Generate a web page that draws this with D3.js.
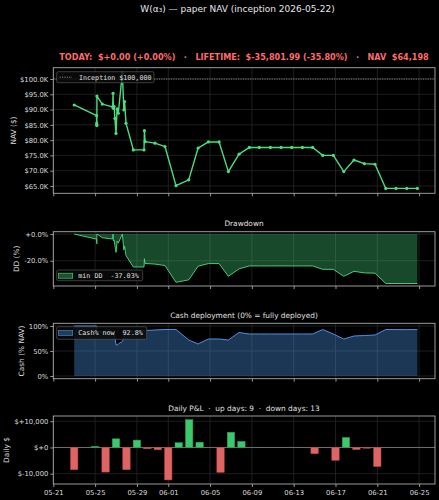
<!DOCTYPE html>
<html>
<head>
<meta charset="utf-8">
<script src="https://cdn.jsdelivr.net/npm/d3@7"></script>
<style>
body{margin:0;background:#000;}
svg{display:block;font-family:"DejaVu Sans",sans-serif;}
</style>
</head>
<body>
<svg id="chart" width="439" height="500"></svg>
<script>
// snapshot times and values
const navTimes = ['2026-05-23T00:00','2026-05-25T03:30','2026-05-25T03:40','2026-05-25T03:50','2026-05-25T04:00','2026-05-25T04:10',
    '2026-05-25T16:30','2026-05-26T16:20','2026-05-26T17:15','2026-05-26T18:00','2026-05-26T19:40','2026-05-26T21:30',
    '2026-05-27T00:00','2026-05-27T02:30','2026-05-27T05:15','2026-05-27T14:30','2026-05-27T18:00','2026-05-27T19:40',
    '2026-05-27T23:00','2026-05-28T15:50','2026-05-29T16:20','2026-05-29T17:15','2026-05-29T18:45','2026-05-30T17:30',
    '2026-05-31T16:30','2026-06-01T17:45','2026-06-02T23:00','2026-06-03T20:30','2026-06-04T20:00','2026-06-05T20:40',
    '2026-06-06T18:00','2026-06-07T18:30','2026-06-08T18:15','2026-06-09T17:00','2026-06-10T18:30','2026-06-11T19:00',
    '2026-06-12T19:30','2026-06-13T20:00','2026-06-14T19:40','2026-06-15T18:45','2026-06-16T19:00','2026-06-17T19:00',
    '2026-06-18T18:30','2026-06-19T18:15','2026-06-20T18:45','2026-06-21T19:30','2026-06-22T19:00','2026-06-23T19:40',
    '2026-06-24T20:00'];
const navValues = [91500,88000,85600,85000,84800,94400,
    91800,90900,95300,90400,91000,87100,
    82200,90200,88800,101950,89900,92600,
    85500,76800,76800,83100,79500,79000,
    77900,65100,67000,77400,79400,79400,
    69700,75400,77600,77600,77600,77600,
    77600,77600,77600,75000,75000,69700,
    73500,72300,72100,64198,64198,64198,
    64198];
const cashValues = [100,100,96,92,90,89,
    89,88,88,88,86,78,
    62,62,64,69,77,85,
    90,90,91,91,91,92,
    93,93,72,64,74,74,
    72,87,84,84,84,84,
    84,84,84,93,84,74,
    80,81,82,93,92.8,92.8,
    92.8];

const pnlDays = ['2026-05-23','2026-05-25','2026-05-26','2026-05-27','2026-05-28','2026-05-29','2026-05-30',
    '2026-05-31','2026-06-01','2026-06-02','2026-06-03','2026-06-04','2026-06-06','2026-06-07',
    '2026-06-08','2026-06-15','2026-06-17','2026-06-18','2026-06-19','2026-06-20','2026-06-21'];
const pnlValues = [-8500,400,-9400,3300,-8500,2800,-500,
    -900,-12400,1800,10600,2000,-9500,5800,
    2300,-2400,-4900,3800,-800,-300,-7300];

const xTickDays = ['2026-05-21','2026-05-25','2026-05-29','2026-06-01','2026-06-05','2026-06-09','2026-06-13','2026-06-17','2026-06-21','2026-06-25'];
const navTicks = [65000,70000,75000,80000,85000,90000,95000,100000];
const ddTicks = [0,-20];
const cashTicks = [0,50,100];
const pnlTicks = [-10000,0,10000];

const inception = 100000;

const left = 53.3, right = 435;
const green = '#4ade80';
const blue = '#4a90e2';

const parseTime = d3.timeParse('%Y-%m-%dT%H:%M');
const parseDay = d3.timeParse('%Y-%m-%d');

const navData = navTimes.map((t,i)=>({'time':parseTime(t),'nav':navValues[i],'cash':cashValues[i]}));
let peak = -Infinity;
navData.forEach(function(d){
    peak = Math.max(peak,d.nav);
    d.dd = (d.nav/peak-1)*100;
});
const pnlData = pnlDays.map((t,i)=>({'day':parseDay(t),'pnl':pnlValues[i]}));
const upDays = pnlValues.filter(v=>v>0).length;

const xScale = d3.scaleTime()
    .domain([parseDay('2026-05-21'), parseTime('2026-06-26T12:30')])
    .range([left,right]);

const svg = d3.select('#chart');
svg.append('rect').attr('width',439).attr('height',500).attr('fill','#000');

// main title + status line
svg.append('text')
    .text('W(α₃) — paper NAV (inception 2026-05-22)')
    .attr('x',237.5).attr('y',11.5)
    .attr('text-anchor','middle')
    .attr('fill','#e6e6e6')
    .style('font-size','9px');

svg.append('text')
    .text('TODAY:  $+0.00 (+0.00%)   ·   LIFETIME:  $-35,801.99 (-35.80%)   ·   NAV  $64,198')
    .attr('x',244).attr('y',60.3)
    .attr('text-anchor','middle')
    .attr('fill','#ff6b6b')
    .style('font-size','8.1px')
    .style('font-weight','bold')
    .style('white-space','pre');

function panel(top,bottom,domain,ticks,fmt,ylabel,ylabelX,showXLabels){
    const yScale = d3.scaleLinear().domain(domain).range([bottom,top]);
    const g = svg.append('g');

    const grid = g.append('g');
    xTickDays.forEach(function(t){
        grid.append('line')
            .attr('x1',xScale(parseDay(t))).attr('x2',xScale(parseDay(t)))
            .attr('y1',top).attr('y2',bottom)
            .attr('stroke','#262626').attr('stroke-width',0.8);
    });
    ticks.forEach(function(v){
        grid.append('line')
            .attr('x1',left).attr('x2',right)
            .attr('y1',yScale(v)).attr('y2',yScale(v))
            .attr('stroke','#262626').attr('stroke-width',0.8);
    });

    const content = g.append('g');

    const yAxis = g.append('g')
        .attr('transform','translate('+left+',0)')
        .call(d3.axisLeft(yScale).tickValues(ticks).tickFormat(fmt).tickSize(3).tickPadding(2));
    const xAxis = g.append('g')
        .attr('transform','translate(0,'+bottom+')')
        .call(d3.axisBottom(xScale).tickValues(xTickDays.map(parseDay))
            .tickFormat(showXLabels ? d3.timeFormat('%m-%d') : '').tickSize(3).tickPadding(3));
    [yAxis,xAxis].forEach(function(a){
        a.select('.domain').remove();
        a.selectAll('line').attr('stroke','#bbbbbb').attr('stroke-width',0.8);
        a.selectAll('text').attr('fill','#dddddd').style('font-size','6.8px').style('font-family','"DejaVu Sans",sans-serif');
    });

    g.append('rect')
        .attr('x',left).attr('y',top)
        .attr('width',right-left).attr('height',bottom-top)
        .attr('fill','none').attr('stroke','#aaaaaa').attr('stroke-width',0.9);

    g.append('text')
        .text(ylabel)
        .attr('transform','translate('+ylabelX+','+((top+bottom)/2)+') rotate(-90)')
        .attr('text-anchor','middle')
        .attr('dominant-baseline','central')
        .attr('fill','#dddddd')
        .style('font-size','7.4px');

    return {'content':content,'yScale':yScale,'g':g};
}

function panelTitle(text,y){
    svg.append('text')
        .text(text)
        .attr('x',244).attr('y',y)
        .attr('text-anchor','middle')
        .attr('fill','#e0e0e0')
        .style('font-size','7.4px')
        .style('white-space','pre');
}

function legendBox(x,y,w,h){
    return svg.append('rect')
        .attr('x',x).attr('y',y).attr('width',w).attr('height',h)
        .attr('rx',1.5)
        .attr('fill','#0b0b0b').attr('fill-opacity',0.85)
        .attr('stroke','#555555').attr('stroke-width',0.7);
}

// ---- NAV panel
const nav = panel(67.7,193.3,[62600,103700],navTicks,v=>'$'+(v/1000).toFixed(1)+'K','NAV ($)',13.3,false);

nav.content.append('line')
    .attr('x1',left).attr('x2',right)
    .attr('y1',nav.yScale(inception)).attr('y2',nav.yScale(inception))
    .attr('stroke','#888888').attr('stroke-width',1)
    .attr('stroke-dasharray','1.2,1.2');

const navLine = d3.line()
    .x(d=>xScale(d.time))
    .y(d=>nav.yScale(d.nav));

nav.content.append('path')
    .datum(navData)
    .attr('d',navLine)
    .attr('fill','none')
    .attr('stroke',green)
    .attr('stroke-width',1.4)
    .attr('stroke-linejoin','round');

nav.content.selectAll('circle')
    .data(navData)
    .enter()
    .append('circle')
    .attr('cx',d=>xScale(d.time))
    .attr('cy',d=>nav.yScale(d.nav))
    .attr('r',1.6)
    .attr('fill',green);

legendBox(56.7,71.7,97.3,11);
svg.append('line')
    .attr('x1',59.5).attr('x2',72).attr('y1',77.2).attr('y2',77.2)
    .attr('stroke','#888888').attr('stroke-width',1).attr('stroke-dasharray','1.2,1.2');
svg.append('text')
    .text('Inception $100,000')
    .attr('x',79).attr('y',79.6)
    .attr('fill','#e0e0e0')
    .style('font-family','"DejaVu Sans Mono",monospace')
    .style('font-size','6.7px');

// ---- Drawdown panel
panelTitle('Drawdown',226.2);
const dd = panel(231.7,286,[-38.9,1.75],ddTicks,v=>(v>=0?'+':'-')+Math.abs(v).toFixed(1)+'%','DD (%)',16.7,false);

const ddArea = d3.area()
    .x(d=>xScale(d.time))
    .y0(dd.yScale(0))
    .y1(d=>dd.yScale(d.dd));
dd.content.append('path')
    .datum(navData)
    .attr('d',ddArea)
    .attr('fill',green).attr('fill-opacity',0.33);
dd.content.append('path')
    .datum(navData)
    .attr('d',d3.line().x(d=>xScale(d.time)).y(d=>dd.yScale(d.dd)))
    .attr('fill','none').attr('stroke',green).attr('stroke-width',0.9);

const minDD = d3.min(navData,d=>d.dd);
legendBox(56.7,270,86,10.7);
svg.append('rect')
    .attr('x',58.3).attr('y',273.2).attr('width',14.4).attr('height',5)
    .attr('fill',green).attr('fill-opacity',0.33)
    .attr('stroke',green).attr('stroke-width',0.6);
svg.append('text')
    .text('min DD  '+minDD.toFixed(2)+'%')
    .attr('x',78.3).attr('y',277.7)
    .attr('fill','#e0e0e0')
    .style('white-space','pre')
    .style('font-family','"DejaVu Sans Mono",monospace')
    .style('font-size','6.7px');

// ---- Cash panel
panelTitle('Cash deployment (0% = fully deployed)',318.4);
const cash = panel(323.3,378.7,[-5.4,105.4],cashTicks,v=>v+'%','Cash (% NAV)',21.7,false);

cash.content.append('path')
    .datum(navData)
    .attr('d',d3.area().x(d=>xScale(d.time)).y0(cash.yScale(0)).y1(d=>cash.yScale(d.cash)))
    .attr('fill',blue).attr('fill-opacity',0.38);
cash.content.append('path')
    .datum(navData)
    .attr('d',d3.line().x(d=>xScale(d.time)).y(d=>cash.yScale(d.cash)))
    .attr('fill','none').attr('stroke',blue).attr('stroke-width',1);

legendBox(56.7,326.7,90,12.6);
svg.append('rect')
    .attr('x',58.3).attr('y',330.5).attr('width',14.4).attr('height',5)
    .attr('fill',blue).attr('fill-opacity',0.38)
    .attr('stroke',blue).attr('stroke-width',0.6);
svg.append('text')
    .text('Cash% now  '+cashValues[cashValues.length-1].toFixed(1)+'%')
    .attr('x',78.3).attr('y',335.4)
    .attr('fill','#e0e0e0')
    .style('white-space','pre')
    .style('font-family','"DejaVu Sans Mono",monospace')
    .style('font-size','6.7px');

// ---- Daily P&L panel
panelTitle('Daily P&L  ·  up days: '+upDays+'  ·  down days: 13',411);
const pnl = panel(416,484,[-13950,12000],pnlTicks,
    v=>v===0 ? '$+0' : '$'+(v>0?'+':'-')+d3.format(',')(Math.abs(v)),'Daily $',6.7,true);

const barW = xScale(d3.timeHour.offset(parseDay('2026-05-21'),17)) - xScale(parseDay('2026-05-21'));

pnl.content.append('line')
    .attr('x1',left).attr('x2',right)
    .attr('y1',pnl.yScale(0)).attr('y2',pnl.yScale(0))
    .attr('stroke','#888888').attr('stroke-width',0.8);

pnl.content.selectAll('rect')
    .data(pnlData)
    .enter()
    .append('rect')
    .attr('x',d=>xScale(d.day)-barW/2)
    .attr('width',barW)
    .attr('y',d=>pnl.yScale(Math.max(0,d.pnl)))
    .attr('height',d=>Math.abs(pnl.yScale(d.pnl)-pnl.yScale(0)))
    .attr('fill',d=>d.pnl>=0 ? '#3cc86c' : '#e06464')
    .attr('stroke',d=>d.pnl>=0 ? '#2a9a50' : '#b04848')
    .attr('stroke-width',0.5);
</script>
</body>
</html>
